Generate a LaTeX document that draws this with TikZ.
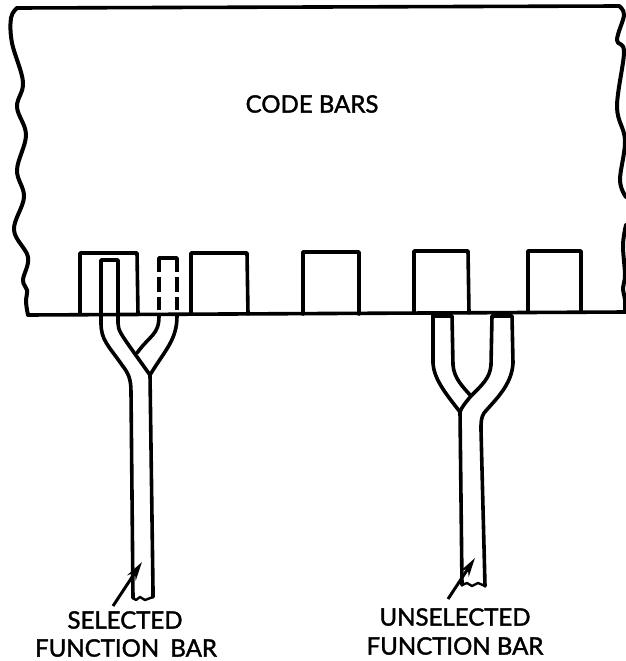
\documentclass[tikz,border=0pt]{standalone}
\usepackage{fontspec}
\setmainfont[FakeBold=1.6]{Lato}
\usetikzlibrary{arrows.meta}
\tikzset{
  ink/.style={line width=3.6pt,line join=round,line cap=round,black},
  dashpiece/.style={line width=3.6pt,line join=round,line cap=butt,black},
  thick ink/.style={line width=4pt,line join=round,line cap=round,black},
  lbl/.style={font=\fontsize{24}{24}\selectfont,black,inner sep=0pt,anchor=center},
  ptr/.style={line width=3pt,black,-{Stealth[length=19pt,width=10pt]}}
}
\begin{document}
\begin{tikzpicture}[x=1pt,y=-1pt]
\useasboundingbox (0,0) rectangle (626,661);
% code bars outline
\draw[thick ink] plot[smooth,tension=.6] coordinates {(17,8) (11,18) (12,43) (23,82) (17,107) (26,135) (17,170) (24,197) (14,230) (28,257) (23,280) (27,290) (26,302) (28,315)};
\draw[ink] (17,8) -- (619,6);
\draw[thick ink] plot[smooth,tension=.6] coordinates {(619,6) (624,15) (617,40) (624,52) (617,107) (625,140) (620,180) (626,197)};
\draw[thick ink] plot[smooth,tension=.6] coordinates {(626,225) (623,245) (625,275) (623,288) (625,300) (625,312)};
\draw[ink] (28,315) -- (626,312);
% notches
\draw[ink] (80,314) -- (80,253) -- (137,253) -- (138,314);
\draw[ink] (191,314) -- (191,253) -- (247,253) -- (248,314);
\draw[ink] (303,314) -- (303,252) -- (359,252) -- (359,314);
\draw[ink] (414,313) -- (414,251) -- (468,251) -- (469,313);
\draw[ink] (528,312) -- (528,251) -- (581,251) -- (581,312);
% selected bar
\draw[ink] (118,323) -- (118,260) -- (101,260) -- (101,323)
  .. controls (101,340) and (108,345) .. (122,365)
  .. controls (128,373) and (131,378) .. (131,392) -- (133,598);
\draw[ink] (118,323) .. controls (118,331) and (120,333) .. (150,375) -- (153,590) -- (153,597);
\draw[line width=2.4pt,line join=round,line cap=round] (133,598) -- (136,600) -- (140,597) -- (145,600) -- (153,597);
% ghost position
\draw[dashpiece] (159,272) -- (159,258) -- (177,258) -- (177,272);
\draw[dashpiece] (159,277) -- (159,292) (177,277) -- (177,292);
\draw[dashpiece] (159,297) -- (159,310) (177,297) -- (177,310);
\draw[ink] (159,316) .. controls (159,335) and (150,335) .. (137,353);
\draw[ink] (177,316) .. controls (177,340) and (165,350) .. (150,375);
% unselected bar
\draw[thick ink] (433,316) -- (451,316);
\draw[thick ink] (493,316) -- (511,316);
\draw[ink] (433,316) -- (433,363)
  .. controls (434,380) and (447,395) .. (460,412) -- (462,585);
\draw[ink] (452,316) -- (453,365) .. controls (454,378) and (462,386) .. (471,396);
\draw[ink] (492,316) -- (491,365) .. controls (490,378) and (482,385) .. (471,396) .. controls (466,402) and (461,408) .. (460,412);
\draw[ink] (512,316) -- (513,363) .. controls (512,385) and (495,400) .. (484,413) .. controls (481,418) and (481,422) .. (481,430) -- (485,586);
\draw[line width=2.4pt,line join=round,line cap=round] (462,585) -- (467,583) -- (472,586) -- (478,583) -- (485,586);
% labels
\node[lbl] (codebars) at (312,104) {CODE BARS};
\node[lbl] (sel) at (125,620) {SELECTED};
\node[lbl] (fb1) at (126,648) {FUNCTION\hspace{5pt} BAR};
\node[lbl] (unsel) at (455,617) {UNSELECTED};
\node[lbl] (fb2) at (455,646) {FUNCTION BAR};
% pointers
\coordinate (p1) at (113,606);
\coordinate (p1t) at (142,562);
\coordinate (p2) at (448,599);
\coordinate (p2t) at (475,558);
\draw[ptr] (p1) -- (p1t);
\draw[ptr] (p2) -- (p2t);
\end{tikzpicture}
\end{document}
